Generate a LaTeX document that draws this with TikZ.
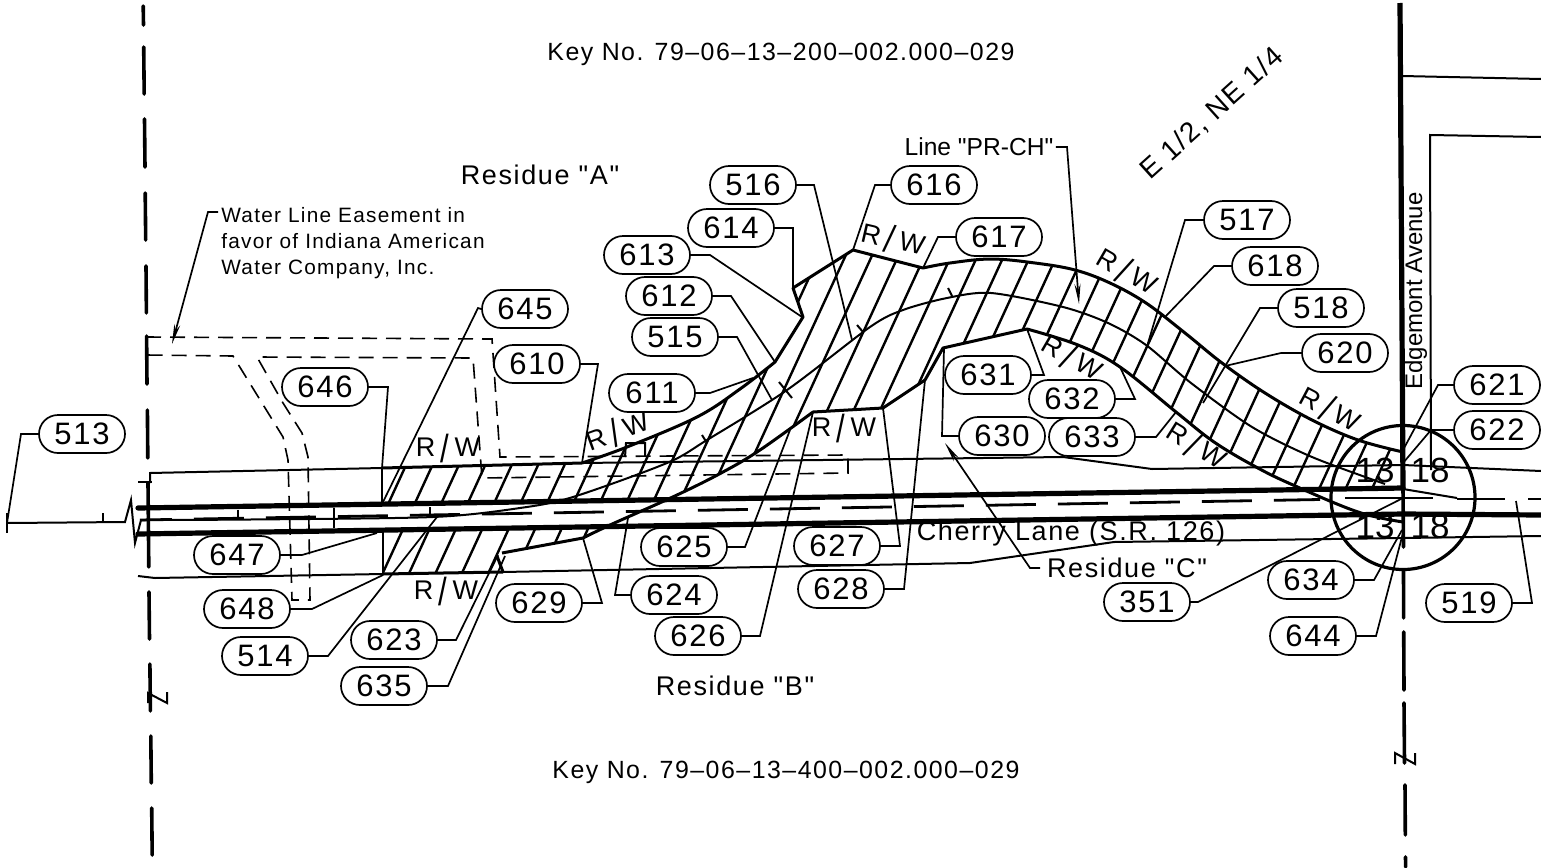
\documentclass[tikz,border=0pt]{standalone}
\usepackage{fontspec}
\setmainfont{Liberation Sans}
\newfontfamily\cadfont[LetterSpace=6]{Liberation Sans}
\newfontfamily\cadplain{Liberation Sans}
\usetikzlibrary{shapes.misc,arrows.meta}
\pgfdeclarelayer{bg}
\pgfsetlayers{bg,main}
\newcommand{\rwmark}{R\hspace{.2em}\raisebox{-.2em}{\scalebox{1.15}[1.45]{/}}\hspace{.2em}W}
\tikzset{
  tag/.style={draw, fill=white, line width=0.85pt, rounded rectangle, minimum width=43pt, minimum height=19pt, inner sep=0pt, font=\cadfont\fontsize{15.5}{16}\selectfont},
  lead/.style={line width=0.85pt},
  arrowlead/.style={line width=0.85pt, -{Stealth[length=10pt,width=3pt]}},
  plain/.style={line width=1pt},
  rwline/.style={line width=1.5pt, line join=round},
  roadline/.style={line width=2.6pt, line cap=round},
  secline/.style={line width=1.8pt, line cap=round},
  hatchline/.style={line width=1.2pt},
  easement/.style={line width=0.8pt, dash pattern=on 7.5pt off 4.5pt},
  rwlabel/.style={inner sep=0pt, font=\fontsize{13.5}{14}\selectfont},
  txt/.style={font=\cadfont\fontsize{12.45}{14}\selectfont},
  bigtxt/.style={font=\cadfont\fontsize{13.5}{14}\selectfont},
  sectxt/.style={font=\fontsize{17.5}{18}\selectfont},
  rwtop/.style={insert path={plot[smooth,tension=0.6] coordinates {(582,463) (627,447) (697,417) (740,389) (775,362)} -- (803,317) -- (793,288) -- (853,250) -- (923,268) -- plot[smooth,tension=0.6] coordinates {(923,268) (950,263) (991,259) (1035,263) (1075,270) (1110,283) (1146,303) (1185,333) (1222,363) (1265,393) (1312,420) (1358,440) (1403,452)}}},
  rwlow/.style={insert path={-- plot[smooth,tension=0.6] coordinates {(583,538) (610,525) (677,495) (723,472) (760,450) (813,412)} -- (883,408) -- (925,380) -- (943,348) -- (1027,329) -- plot[smooth,tension=0.6] coordinates {(1027,329) (1078,345) (1120,367) (1176,412) (1214,442) (1256,467) (1293,485) (1358,512) (1403,522)}}},
}
\begin{document}
\begin{tikzpicture}[x=0.5pt,y=-0.5pt]
        \useasboundingbox (0,0) rectangle (1541,867);
        % callouts
        \node (n513) [tag] at (82,434) {513};
        \node (n645) [tag] at (525,309) {645};
        \node (n610) [tag] at (537,364) {610};
        \node (n646) [tag] at (325,387) {646};
        \node (n647) [tag] at (237,555) {647};
        \node (n648) [tag] at (247,609) {648};
        \node (n514) [tag] at (265,656) {514};
        \node (n623) [tag] at (394,640) {623};
        \node (n635) [tag] at (384,686) {635};
        \node (n629) [tag] at (539,603) {629};
        \node (n624) [tag] at (674,595) {624};
        \node (n625) [tag] at (684,547) {625};
        \node (n626) [tag] at (698,636) {626};
        \node (n627) [tag] at (837,546) {627};
        \node (n628) [tag] at (841,589) {628};
        \node (n630) [tag] at (1002,436) {630};
        \node (n631) [tag] at (988,375) {631};
        \node (n632) [tag] at (1072,399) {632};
        \node (n633) [tag] at (1092,437) {633};
        \node (n351) [tag] at (1147,602) {351};
        \node (n634) [tag] at (1311,580) {634};
        \node (n644) [tag] at (1313,636) {644};
        \node (n519) [tag] at (1469,603) {519};
        \node (n622) [tag] at (1497,430) {622};
        \node (n621) [tag] at (1497,385) {621};
        \node (n620) [tag] at (1345,353) {620};
        \node (n518) [tag] at (1321,308) {518};
        \node (n618) [tag] at (1275,266) {618};
        \node (n517) [tag] at (1247,220) {517};
        \node (n617) [tag] at (999,237) {617};
        \node (n616) [tag] at (934,185) {616};
        \node (n516) [tag] at (753,185) {516};
        \node (n614) [tag] at (731,228) {614};
        \node (n613) [tag] at (647,255) {613};
        \node (n612) [tag] at (669,296) {612};
        \node (n515) [tag] at (675,337) {515};
        \node (n611) [tag] at (652,393) {611};
        % free ends of the leaders
        \coordinate (e513) at (7,523);
        \coordinate (e645) at (383,502);
        \coordinate (e610) at (582,463);
        \coordinate (e646) at (382,468);
        \coordinate (e647) at (377,533);
        \coordinate (e648) at (383,575);
        \coordinate (e514) at (437,517);
        \coordinate (e623) at (498,555);
        \coordinate (e635) at (505,556);
        \coordinate (e629) at (583,538);
        \coordinate (e624) at (628,518);
        \coordinate (e625) at (790,430);
        \coordinate (e626) at (813,412);
        \coordinate (e627) at (883,408);
        \coordinate (e628) at (925,380);
        \coordinate (e630) at (944,348);
        \coordinate (e631) at (1027,329);
        \coordinate (e632) at (1120,367);
        \coordinate (e633) at (1176,412);
        \coordinate (e351) at (1403,498);
        \coordinate (e634) at (1402,530);
        \coordinate (e644) at (1403,533);
        \coordinate (e519) at (1516,501);
        \coordinate (e622) at (1403,463);
        \coordinate (e621) at (1403,450);
        \coordinate (e620) at (1225,366);
        \coordinate (e518) at (1203,403);
        \coordinate (e618) at (1165,317);
        \coordinate (e517) at (1148,343);
        \coordinate (e617) at (923,268);
        \coordinate (e616) at (853,250);
        \coordinate (e516) at (852,340);
        \coordinate (e614) at (793,288);
        \coordinate (e613) at (802,317);
        \coordinate (e612) at (775,362);
        \coordinate (e515) at (772,400);
        \coordinate (e611) at (753,378);
        % texts
        \node (key1) [txt] at (781,54) {Key No. 79–06–13–200–002.000–029};
        \node (key2) [txt] at (786,772) {Key No. 79–06–13–400–002.000–029};
        \node (resA) [bigtxt] at (540,175) {Residue "A"};
        \node (resB) [bigtxt] at (735,686) {Residue "B"};
        \node (resC) [bigtxt] at (1127,568) {Residue "C"};
        \node (prch) [inner sep=1pt, font=\cadplain\fontsize{12.3}{14}\selectfont] at (979,147) {Line "PR-CH"};
        \node (water) [font=\cadfont\fontsize{10.4}{13}\selectfont, inner sep=0pt, align=left, anchor=north west] at (221,207) {Water Line Easement in\\favor of Indiana American\\Water Company, Inc.};
        \node (quarter) [font=\cadfont\fontsize{14}{14}\selectfont, rotate=42] at (1212,114) {E 1/2, NE 1/4};
        \node (cherry) [bigtxt] at (1071,534) {Cherry Lane (S.R. 126)};
        \node (edge) [font=\fontsize{12}{14}\selectfont, rotate=90] at (1416,291) {Edgemont Avenue};
        \node (s1) [sectxt] at (1375,470) {13};
        \node (s2) [sectxt] at (1430,470) {18};
        \node (s3) [sectxt] at (1375,526) {13};
        \node (s4) [sectxt] at (1430,526) {18};
        \node (rw1) [rwlabel] at (448,448) {\rwmark};
        \node (rw2) [rwlabel] at (446,591) {\rwmark};
        \node (rw3) [rwlabel, rotate=20] at (618,432) {\rwmark};
        \node (rw4) [rwlabel] at (844,428) {\rwmark};
        \node (rw5) [rwlabel, rotate=-13] at (893,240) {\rwmark};
        \node (rw6) [rwlabel, rotate=-30] at (1127,272) {\rwmark};
        \node (rw7) [rwlabel, rotate=-30] at (1072,358) {\rwmark};
        \node (rw8) [rwlabel, rotate=-32] at (1196,446) {\rwmark};
        \node (rw9) [rwlabel, rotate=-28] at (1330,410) {\rwmark};
        \coordinate (toPR) at (1079,304);
        \coordinate (toC) at (945,443);
        \coordinate (toW) at (172,344);
        \coordinate (fromW) at (218,212);
        \begin{pgfonlayer}{bg}
                % hatching
                \begin{scope}
                        \clip [rwtop] -- (1403,600) -- (383,600) -- (383,468) -- cycle;
                        \clip (383,574) -- (503,572) -- (497,558) -- (502,553) [rwlow] -- (1403,0) -- (383,0) -- cycle;
                        \foreach \k in {0,...,37}
                                \draw [hatchline] ({620+26.4*\k},0) -- ({620+26.4*\k-0.46*600},600);
                \end{scope}
                \fill [white] (383,503.5) -- (1403,488) -- (1403,514) -- (383,530) -- cycle;
                % right of way
                \draw [rwline] [rwtop];
                \draw [rwline] (502,553) [rwlow];
                \draw [rwline] (497,556) -- (503,572);
                \draw [rwline, line width=1.2pt] (382,468) -- (382,503);
                \draw [rwline, line width=1.2pt] (383,530) -- (383,574);
                \draw [rwline] (382,468) -- (582,463);
                \draw [rwline] (383,574) -- (503,572);
                \draw [plain] (138,482) -- (152,482);
                \draw [plain] (150,483) -- (150,473) -- (382,468);
                \draw [plain] (582,463) -- (1063,457) -- (1152,469) -- (1403,465) -- (1541,471);
                \draw [plain] (138,576) -- (155,578) -- (383,574);
                \draw [plain] (503,572) -- (970,563) -- (1114,542) -- (1403,538) -- (1541,536);
                % road
                \draw [roadline] (138,508) -- (1403,488);
                \draw [roadline] (138,534) -- (1403,514) -- (1541,515);
                \draw [line width=1.4pt, dash pattern=on 25pt off 11pt, dash phase=9pt] (140,520) -- (1320,499.5);
                \draw [line width=1.4pt] (1345,498) -- (1433,498);
                \draw [line width=1.4pt] (1457,499) -- (1505,499);
                \draw [line width=1.4pt] (1528,499) -- (1541,499);
                \draw [plain] (1403,489) -- (1457,498);
                % center line
                \draw [plain] plot[smooth,tension=0.5] coordinates {(140,520) (250,519.5) (433,517) (520,508) (573,497) (667,463) (707,440) (787,390) (870,327) (903,310) (947,298) (991,293) (1063,307) (1108,323) (1146,345) (1191,383) (1252,427) (1312,457) (1385,484)};
                \draw [plain] (779,382) -- (792,398);
                \draw [plain] (857,325) -- (863,332);
                \draw [plain] (948,288) -- (952,296);
                \draw [plain] (702,435) -- (707,443);
                \draw [plain] (238,510) -- (238,518);
                \draw [plain] (334,508) -- (334,528);
                \draw [plain] (430,507) -- (430,515);
                \draw [plain] (103,513) -- (103,522);
                \draw [plain] (7,513) -- (7,533);
                \draw [plain] (7,523) -- (125,522) -- (131,500) -- (135,543) -- (141,520) -- (146,520);
                % sections
                \draw [secline] (143.2,6) -- (143.5,25);
                \draw [secline] (143.7,47) -- (144.2,94);
                \draw [secline] (144.5,119) -- (145,167);
                \draw [secline] (145.2,193) -- (145.7,240);
                \draw [secline] (146,266) -- (146.4,313);
                \draw [secline] (146.6,336) -- (147,384);
                \draw [secline] (147.4,410) -- (147.8,458);
                \draw [secline] (148,483) -- (148.8,567);
                \draw [secline] (149,592) -- (149.5,639);
                \draw [secline] (149.9,664) -- (150.4,711);
                \draw [secline] (150.8,736) -- (151.3,783);
                \draw [secline] (151.7,808) -- (152.2,855);
                \draw [plain] (148,703) -- (148,693) -- (167,703) -- (167,692);
                \draw [line width=2.6pt] (1400,3) -- (1403,490);
                \draw [secline] (1403,490) -- (1403.5,547);
                \draw [secline] (1403.5,570) -- (1403.6,618);
                \draw [secline] (1403.7,632) -- (1404,690);
                \draw [secline] (1404,703) -- (1404.5,763);
                \draw [secline] (1405,785) -- (1405.3,835);
                \draw [secline] (1405.5,857) -- (1405.6,867);
                \draw [plain] (1395,764) -- (1395,753) -- (1415,764) -- (1415,753);
                \draw [plain] (1402,76) -- (1541,79);
                \draw [plain] (1541,137) -- (1430,135) -- (1431,470);
                \draw [line width=1.6pt] (1403,497.5) circle [radius=72];
                % easement
                \draw [easement] (146,337) -- (492,339) -- (500,457) -- (848,455) -- (848,473) -- (482,478) -- (473,358) -- (257,357) -- (283,403) -- (302,433) -- (308,457) -- (310,600) -- (292,600) -- (288,460) -- (283,437) -- (233,356) -- (146,355);
                \draw [plain] (625,457) -- (626,443) -- (645,443) -- (645,456);
                % leaders
                \draw [lead] (n513.west) -- (21,434) -- (e513);
                \draw [lead] (n645.west) -- (478,308) -- (e645);
                \draw [lead] (n610.east) -- (598,364) -- (e610);
                \draw [lead] (n646.east) -- (388,387) -- (e646);
                \draw [lead] (n647.east) -- (302,555) -- (e647);
                \draw [lead] (n648.east) -- (312,609) -- (e648);
                \draw [lead] (n514.east) -- (328,656) -- (e514);
                \draw [lead] (n623.east) -- (456,640) -- (e623);
                \draw [lead] (n635.east) -- (448,686) -- (e635);
                \draw [lead] (n629.east) -- (602,603) -- (e629);
                \draw [lead] (n624.west) -- (615,595) -- (e624);
                \draw [lead] (n625.east) -- (745,547) -- (e625);
                \draw [lead] (n626.east) -- (760,636) -- (e626);
                \draw [lead] (n627.east) -- (900,546) -- (e627);
                \draw [lead] (n628.east) -- (904,589) -- (e628);
                \draw [lead] (n630.west) -- (942,436) -- (e630);
                \draw [lead] (n631.east) -- (1044,375) -- (e631);
                \draw [lead] (n632.east) -- (1135,399) -- (e632);
                \draw [lead] (n633.east) -- (1156,437) -- (e633);
                \draw [lead] (n351.east) -- (1198,602) -- (e351);
                \draw [lead] (n634.east) -- (1374,580) -- (e634);
                \draw [lead] (n644.east) -- (1376,636) -- (e644);
                \draw [lead] (n519.east) -- (1532,603) -- (e519);
                \draw [lead] (n622.west) -- (1431,430) -- (e622);
                \draw [lead] (n621.west) -- (1438,385) -- (e621);
                \draw [lead] (n620.west) -- (1281,353) -- (e620);
                \draw [lead] (n518.west) -- (1260,308) -- (e518);
                \draw [lead] (n618.west) -- (1214,266) -- (e618);
                \draw [lead] (n517.west) -- (1185,220) -- (e517);
                \draw [lead] (n617.west) -- (938,237) -- (e617);
                \draw [lead] (n616.west) -- (875,185) -- (e616);
                \draw [lead] (n516.east) -- (814,185) -- (e516);
                \draw [lead] (n614.east) -- (793,228) -- (e614);
                \draw [lead] (n613.east) -- (710,255) -- (e613);
                \draw [lead] (n612.east) -- (731,296) -- (e612);
                \draw [lead] (n515.east) -- (737,337) -- (e515);
                \draw [lead] (n611.east) -- (710,393) -- (e611);
                \draw [arrowlead] (prch.east) -- (1067,147) -- (toPR);
                \draw [arrowlead] (resC.west) -- (1030,568) -- (toC);
                \draw [arrowlead] (fromW) -- (208,212) -- (toW);
        \end{pgfonlayer}
\end{tikzpicture}
\end{document}
